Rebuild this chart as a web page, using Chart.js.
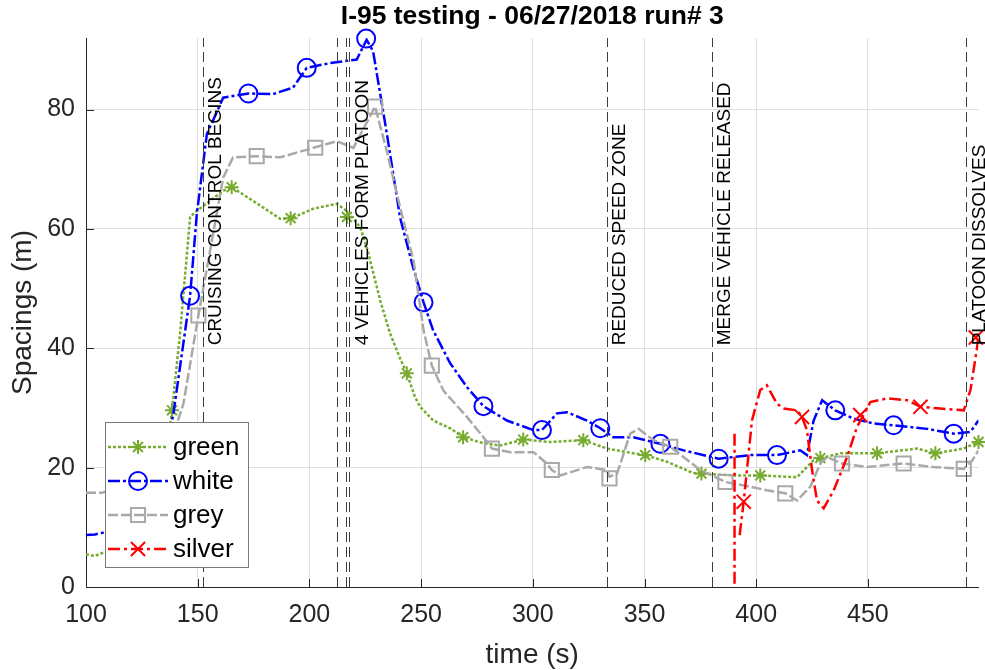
<!DOCTYPE html>
<html>
<head>
<meta charset="utf-8">
<title>I-95 testing - 06/27/2018 run# 3</title>
<script src="https://cdn.jsdelivr.net/npm/chart.js@4.4.1/dist/chart.umd.min.js"></script>
<style>
  html, body { margin: 0; padding: 0; background: #fff; }
  canvas { display: block; }
</style>
</head>
<body>
<canvas id="spacingChart" width="985" height="670"></canvas>
<script>
///////////////////////////////////////////////////////////////////////////
// DATA (time in s, spacing in m)
///////////////////////////////////////////////////////////////////////////
var xTicks = [100, 150, 200, 250, 300, 350, 400, 450];
var yTicks = [0, 20, 40, 60, 80];

var greenT = [100, 104, 108, 126, 134, 138.5, 142.1, 146.6, 148.8, 161.4, 165.2, 174.8, 186.9, 192, 201.7, 212.3, 216.8, 222.7, 225.7, 231.7, 236.1, 240.6, 243.6, 247.3, 249.6, 255.4, 263, 268.8, 277.8, 285.4, 295.7, 307.8, 322.6, 333.2, 342.1, 350.3, 360, 371.8, 389.7, 401.8, 418.3, 425.6, 428.7, 437.7, 454.1, 472, 480.2, 492.7, 499.5];
var greenS = [5.5, 5.2, 5.8, 8, 17, 29.6, 42.5, 62, 62.8, 66.4, 67, 64.7, 61.7, 61.8, 63.4, 64.2, 63, 60.3, 56.9, 48, 42.5, 38.3, 35.8, 31.8, 30.2, 27.9, 26.6, 25.1, 24.1, 23.7, 24.7, 24.3, 24.6, 23.2, 22.6, 22.1, 21, 19.1, 18.7, 18.7, 18.4, 21.2, 21.6, 22.4, 22.4, 23.2, 22.4, 23.2, 24.3];
var greenMarkT = [138.5, 165.2, 191.6, 216.8, 243.6, 268.8, 295.7, 322.6, 350.3, 375.5, 401.8, 428.7, 454.1, 480.2, 499.5];
var greenMarkS = [29.6, 67, 61.8, 62, 35.8, 25.1, 24.7, 24.6, 22.1, 19.0, 18.7, 21.6, 22.4, 22.4, 24.3];

var whiteT = [100, 104, 118, 132, 139.1, 146.6, 149.6, 154.1, 161.4, 172.7, 183.7, 192.7, 198.8, 209.3, 221.2, 225.6, 228.5, 234.7, 240.6, 246.4, 251.1, 255.4, 263, 270.5, 277.9, 288.4, 300.2, 304.1, 310.8, 315.3, 324.2, 330.2, 336, 345, 357.1, 367.5, 383.2, 397.3, 409.3, 419.7, 422.7, 425.7, 429.5, 435.4, 443.6, 452.6, 461.5, 476.5, 488.4, 495.9, 499.5];
var whiteS = [8.7, 8.8, 10, 16, 29, 48.8, 62.5, 75.9, 82, 82.7, 82.6, 83.7, 87, 87.8, 88.4, 91.7, 89.8, 75.9, 61.9, 53.6, 47.7, 43, 37.5, 33.5, 30.3, 27.9, 26.3, 26.3, 29.1, 29.3, 27.9, 26.6, 25.1, 25.1, 24, 22.9, 21.5, 22.1, 22.1, 22.9, 22.1, 27.9, 31.3, 29.6, 28.2, 27.4, 27.1, 26.5, 25.7, 26, 27.9];
var whiteMarkT = [146.6, 172.7, 198.8, 225.4, 251.1, 277.9, 304.1, 330.2, 357.1, 383.2, 409.3, 435.4, 461.5, 488.4];
var whiteMarkS = [48.8, 82.7, 87, 91.9, 47.7, 30.3, 26.3, 26.6, 24, 21.5, 22.1, 29.6, 27.1, 25.7];

var greyT = [100, 107, 122, 136, 143.6, 150.3, 156.9, 161.4, 165.8, 176.4, 186.9, 201.8, 212.3, 219.7, 229.4, 234.7, 240.6, 246.6, 251.1, 254.8, 260, 270.5, 277.9, 281.7, 289.9, 300.3, 306.3, 308.5, 312.3, 324.2, 333.2, 334.3, 337.7, 343.6, 347.3, 354.1, 361.5, 375, 386.2, 397.3, 404.8, 413, 418.3, 424.2, 428.7, 431.7, 438.4, 449.6, 466, 479.4, 492.9, 496.7, 499.5];
var greyS = [15.8, 15.8, 17, 22, 30.7, 45.5, 59.2, 68.6, 72, 72.2, 72, 73.6, 74.7, 73.6, 80.5, 73, 63.6, 54.7, 43, 37.1, 32.9, 28.5, 25.1, 23.2, 22.6, 22.6, 20.7, 19.6, 18.7, 20.1, 19.6, 18.5, 19, 25.7, 26.5, 24.6, 23.5, 19.6, 17.6, 16.8, 16.2, 15.7, 14.5, 16.8, 20.7, 21.8, 20.7, 20.1, 20.7, 20.1, 19.8, 21.2, 22.9];
var greyMarkT = [150.3, 176.4, 202.6, 229.4, 254.8, 281.7, 308.5, 334.3, 361.5, 386.2, 413, 438.4, 466, 492.9];
var greyMarkS = [45.5, 72.2, 73.6, 80.5, 37.1, 23.2, 19.6, 18.2, 23.5, 17.6, 15.7, 20.7, 20.7, 19.8];

// null = gap in the recorded signal
var silverT = [390.3, 390.3, 391.5, 392.6, 394.4, 398.1, 401.8, 404.8, 409.3, 412.3, 418.3, 420.5, 422.7, 425, 427.2, 430.2, 434.7, 440.7, 445.1, 451.1, 458.6, 467.5, 473.5, 482.4, 492.9, 495.9, 498.9, 499.5];
var silverS = [25.7, -3, null, 8.7, 14.3, 27.9, 33, 33.8, 30.7, 29.9, 29.6, 28.5, 26.3, 19.6, 14.5, 13.2, 16.2, 21.8, 26.8, 31, 31.6, 31.3, 30.2, 29.9, 29.6, 33, 40.2, 42.5];
var silverMarkT = [394.4, 420.5, 446.6, 473.5, 498.3];
var silverMarkS = [14.3, 28.5, 28.8, 30.2, 41.8];

var eventT = [152.3, 212.3, 216.3, 217.9, 333.2, 380.2, 494.1];
var eventLabels = ['CRUISING CONTROL BEGINS', '', '', '4 VEHICLES FORM PLATOON', 'REDUCED SPEED ZONE', 'MERGE VEHICLE RELEASED', 'PLATOON DISSOLVES'];

var FONT = '"Liberation Sans", Arial, Helvetica, sans-serif';
var AXIS_COLOR = '#262626';

function pairs(t, s) {
    return t.map(function (v, i) { return { x: v, y: s[i] }; });
}

function lineSet(label, t, s, color, dash, order) {
    return {
        label: label,
        data: pairs(t, s),
        showLine: true,
        borderColor: color,
        borderWidth: 2.5,
        borderDash: dash,
        pointRadius: 0,
        spanGaps: false,
        order: order
    };
}

function markSet(label, t, s, color, style, radius, order) {
    return {
        label: label,
        data: pairs(t, s),
        showLine: false,
        pointStyle: style,
        pointRadius: radius,
        pointBorderColor: color,
        pointBackgroundColor: 'rgba(0,0,0,0)',
        pointBorderWidth: 2,
        clip: false,
        order: order
    };
}

function fixedTicks(list) {
    return function (scale) {
        scale.ticks = list.map(function (v) { return { value: v }; });
    };
}

///////////////////////////////////////////////////////////////////////////
// event lines, rotated notes, inward ticks, title, legend
///////////////////////////////////////////////////////////////////////////
var decorPlugin = {
    id: 'decor',
    afterDatasetsDraw: function (chart) {
        var ctx = chart.ctx, xs = chart.scales.x, ys = chart.scales.y, area = chart.chartArea;
        ctx.save();
        ctx.strokeStyle = '#3c3c3c';
        ctx.lineWidth = 1;
        ctx.setLineDash([10, 5]);
        eventT.forEach(function (t) {
            var px = Math.round(xs.getPixelForValue(t)) + 0.5;
            ctx.beginPath();
            ctx.moveTo(px, area.bottom);
            ctx.lineTo(px, area.top);
            ctx.stroke();
        });
        ctx.setLineDash([]);

        ctx.fillStyle = '#000';
        ctx.font = '19px ' + FONT;
        ctx.textAlign = 'left';
        ctx.textBaseline = 'middle';
        eventLabels.forEach(function (lbl, i) {
            if (!lbl) return;
            ctx.save();
            ctx.translate(xs.getPixelForValue(eventT[i]) + 13, ys.getPixelForValue(40.5));
            ctx.rotate(-Math.PI / 2);
            ctx.fillText(lbl, 0, 0);
            ctx.restore();
        });

        // MATLAB style ticks pointing inwards
        ctx.strokeStyle = AXIS_COLOR;
        ctx.lineWidth = 1;
        xs.ticks.forEach(function (tk) {
            var px = Math.round(xs.getPixelForValue(tk.value)) + 0.5;
            ctx.beginPath();
            ctx.moveTo(px, area.bottom);
            ctx.lineTo(px, area.bottom - 8);
            ctx.stroke();
        });
        ys.ticks.forEach(function (tk) {
            var py = Math.round(ys.getPixelForValue(tk.value)) + 0.5;
            ctx.beginPath();
            ctx.moveTo(area.left, py);
            ctx.lineTo(area.left + 8, py);
            ctx.stroke();
        });
        ctx.restore();
    },
    afterDraw: function (chart) {
        var ctx = chart.ctx, area = chart.chartArea;
        ctx.save();
        // title
        ctx.fillStyle = '#000';
        ctx.font = 'bold 26.5px ' + FONT;
        ctx.textAlign = 'center';
        ctx.textBaseline = 'middle';
        ctx.fillText('I-95 testing - 06/27/2018 run# 3', (area.left + area.right) / 2, 17);

        // legend box
        var lx = area.left + 19, ly = area.bottom - 165, lw = 143, lh = 145;
        ctx.fillStyle = '#fff';
        ctx.fillRect(lx, ly, lw, lh);
        ctx.strokeStyle = '#7a7a7a';
        ctx.lineWidth = 1;
        ctx.strokeRect(lx + 0.5, ly + 0.5, lw, lh);

        var sets = chart.data.datasets;
        for (var i = 0; i < 4; i++) {
            var ln = sets[i], mk = sets[i + 4];
            var cy = ly + 25 + i * 34;
            ctx.strokeStyle = ln.borderColor;
            ctx.lineWidth = ln.borderWidth;
            ctx.setLineDash(ln.borderDash);
            ctx.beginPath();
            ctx.moveTo(lx + 3, cy);
            ctx.lineTo(lx + 63, cy);
            ctx.stroke();
            ctx.setLineDash([]);
            ctx.strokeStyle = mk.pointBorderColor;
            ctx.fillStyle = 'rgba(0,0,0,0)';
            ctx.lineWidth = mk.pointBorderWidth;
            Chart.helpers.drawPoint(ctx, {
                pointStyle: mk.pointStyle,
                radius: mk.pointRadius,
                borderWidth: mk.pointBorderWidth,
                rotation: 0
            }, lx + 33, cy);
            ctx.fillStyle = '#000';
            ctx.font = '26px ' + FONT;
            ctx.textAlign = 'left';
            ctx.textBaseline = 'middle';
            ctx.fillText(ln.label, lx + 68, cy + 1);
        }
        ctx.restore();
    }
};

var ctx = document.getElementById('spacingChart').getContext('2d');
var chart = new Chart(ctx, {
    type: 'scatter',
    data: {
        datasets: [
            lineSet('green', greenT, greenS, '#77AC30', [3, 2], 4),
            lineSet('white', whiteT, whiteS, '#0000FF', [12, 3, 3, 3], 3),
            lineSet('grey', greyT, greyS, '#A9A9A9', [10, 3], 2),
            lineSet('silver', silverT, silverS, '#FF0000', [12, 4, 3, 4], 1),
            markSet('green marks', greenMarkT, greenMarkS, '#77AC30', 'star', 7, 4),
            markSet('white marks', whiteMarkT, whiteMarkS, '#0000FF', 'circle', 9, 3),
            markSet('grey marks', greyMarkT, greyMarkS, '#A9A9A9', 'rect', 10, 2),
            markSet('silver marks', silverMarkT, silverMarkS, '#FF0000', 'crossRot', 10, 1)
        ]
    },
    options: {
        responsive: false,
        animation: false,
        devicePixelRatio: 1,
        layout: { autoPadding: false, padding: { top: 38, right: 6.5, left: 0, bottom: 0 } },
        plugins: {
            legend: { display: false },
            tooltip: { enabled: false },
            title: { display: false }
        },
        scales: {
            x: {
                type: 'linear',
                min: 100,
                max: 499.5,
                afterBuildTicks: fixedTicks(xTicks),
                ticks: { maxRotation: 0, padding: 13, color: AXIS_COLOR, font: { family: FONT, size: 25 } },
                grid: { color: '#dfdfdf', drawTicks: false },
                border: { display: true, color: AXIS_COLOR, width: 1 },
                title: { display: true, text: 'time (s)', color: AXIS_COLOR, font: { family: FONT, size: 28, lineHeight: 1 }, padding: { top: 0, bottom: 1 } },
                afterFit: function (scale) {
                    scale.height = 83;
                    scale.paddingLeft = 0;
                    scale.paddingRight = 0;
                }
            },
            y: {
                type: 'linear',
                min: 0,
                max: 92,
                afterBuildTicks: fixedTicks(yTicks),
                ticks: { padding: 11, color: AXIS_COLOR, font: { family: FONT, size: 25 } },
                grid: { color: '#dfdfdf', drawTicks: false },
                border: { display: true, color: AXIS_COLOR, width: 1 },
                title: { display: true, text: 'Spacings (m)', color: AXIS_COLOR, font: { family: FONT, size: 28, lineHeight: 1 }, padding: { top: 9, bottom: 0 } },
                afterFit: function (scale) { scale.width = 86; }
            }
        }
    },
    plugins: [decorPlugin]
});
</script>
</body>
</html>
